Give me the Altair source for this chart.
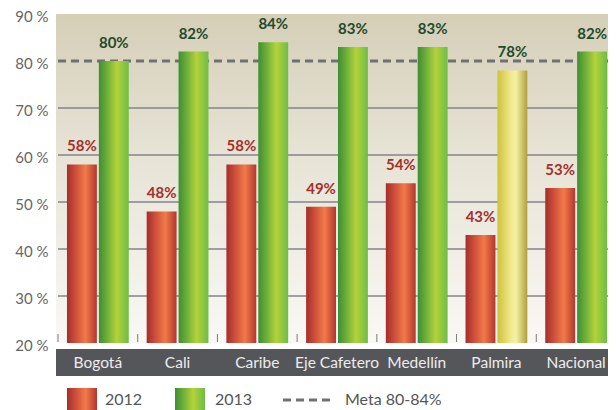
import altair as alt
import pandas as pd

regions = ["Bogotá", "Cali", "Caribe", "Eje Cafetero", "Medellín", "Palmira", "Nacional"]
v2012 = [58, 48, 58, 49, 54, 43, 53]
v2013 = [80, 82, 84, 83, 83, 78, 82]
years = ["2012", "2013"]
y_ticks = [20, 30, 40, 50, 60, 70, 80, 90]
grid_vals = [30, 40, 50, 60, 70]
meta = 80
legend_labels = ["2012", "2013", "Meta 80-84%"]

rows = []
for r, a, b in zip(regions, v2012, v2013):
    rows.append({"region": r, "year": "2012", "value": a})
    rows.append({"region": r, "year": "2013", "value": b})
df = pd.DataFrame(rows)
reg_df = pd.DataFrame({"region": regions})
one = pd.DataFrame({"k": [0]})

W, H = 558, 329      # full drawing extent of the plot (runs past the window edge)
VIEW_W = 550         # visible svg part
FONT = "Lato"


def hgrad(stops):
    return alt.Gradient(gradient="linear",
                        stops=[alt.GradientStop(color=c, offset=o) for o, c in stops],
                        x1=0, x2=1, y1=0, y2=0)


RED = hgrad([(0, "#a52d2c"), (0.3, "#cf503b"), (0.62, "#f27a48"), (1, "#b2372f")])
GREEN = hgrad([(0, "#3e8e33"), (0.3, "#72b23a"), (0.6, "#b5d23a"), (1, "#6dbd46")])
YELLOW = hgrad([(0, "#cdc23a"), (0.45, "#f1e98e"), (0.62, "#f6f0a6"), (1, "#aca13a")])
BG = alt.Gradient(gradient="linear",
                  stops=[alt.GradientStop(color="#d5cfb8", offset=0),
                         alt.GradientStop(color="#e6e2d4", offset=0.4),
                         alt.GradientStop(color="#f9f8f5", offset=1)],
                  x1=0, x2=0, y1=0, y2=1)

xscale = alt.Scale(domain=regions, range=[0, W], paddingInner=0, paddingOuter=0)
x_enc = alt.X("region:N", scale=xscale, axis=None)
xo_enc = alt.XOffset("year:N", scale=alt.Scale(domain=years, paddingInner=0.0625, paddingOuter=0.28125))
y_enc = alt.Y("value:Q", scale=alt.Scale(domain=[20, 90], nice=False, zero=False),
              axis=alt.Axis(values=y_ticks, labelExpr="datum.value + ' %'", grid=False,
                            ticks=False, domain=False, labelFontSize=15, labelColor="#666666",
                            labelPadding=10, labelFont=FONT, labelOffset=2, title=None))

background = alt.Chart(one).mark_rect(fill=BG).encode(
    x=alt.value(-2), x2=alt.value(W), y=alt.value(0), y2=alt.value(H))

grid = alt.Chart(pd.DataFrame({"value": grid_vals})).mark_rule(
    color="#858587", strokeWidth=1.5).encode(y=y_enc, x=alt.value(0), x2=alt.value(W))

base = alt.Chart(df).encode(x=x_enc, xOffset=xo_enc, y=y_enc, y2=alt.datum(20))

red_bars = base.transform_filter("datum.year == '2012'").mark_bar(fill=RED)
green_bars = base.transform_filter(f"datum.year == '2013' && datum.value >= {meta}").mark_bar(fill=GREEN)
yellow_bars = base.transform_filter(f"datum.year == '2013' && datum.value < {meta}").mark_bar(fill=YELLOW)

lab = alt.Chart(df).transform_calculate(label="datum.value + '%'").encode(
    x=x_enc, xOffset=xo_enc, y=y_enc, text="label:N")
red_lab = lab.transform_filter("datum.year == '2012'").mark_text(
    dy=-13, fontWeight="bold", fontSize=15, font=FONT, color="#a3302c", baseline="alphabetic")
green_lab = lab.transform_filter("datum.year == '2013'").mark_text(
    dy=-13, fontWeight="bold", fontSize=15, font=FONT, color="#1f4a29", baseline="alphabetic")

meta_line = alt.Chart(pd.DataFrame({"value": [meta]})).mark_rule(
    color="#707070", strokeWidth=3, strokeDash=[8, 5]).encode(y=y_enc, x=alt.value(0), x2=alt.value(W))

ticks = alt.Chart(reg_df).mark_rule(color="#7a7a7a", strokeWidth=1).encode(
    x=alt.X("region:N", scale=xscale, axis=None, bandPosition=0),
    y=alt.value(H - 9), y2=alt.value(H - 1))

band = alt.Chart(one).mark_rect(fill="#55565a").encode(
    x=alt.value(-2), x2=alt.value(W), y=alt.value(H + 6), y2=alt.value(H + 33))
band_labels = alt.Chart(reg_df).mark_text(color="#ededed", fontSize=15.5, font=FONT).encode(
    x=x_enc, y=alt.value(H + 20), text="region:N")

LY = 386
leg = [
    alt.Chart(one).mark_rect(fill=RED).encode(x=alt.value(9), x2=alt.value(39), y=alt.value(LY - 12), y2=alt.value(LY + 14)),
    alt.Chart(one).mark_text(align="left", baseline="middle", fontSize=16, font=FONT, color="#555555",
                             text=legend_labels[0]).encode(x=alt.value(47), y=alt.value(LY)),
    alt.Chart(one).mark_rect(fill=GREEN).encode(x=alt.value(117), x2=alt.value(147), y=alt.value(LY - 12), y2=alt.value(LY + 14)),
    alt.Chart(one).mark_text(align="left", baseline="middle", fontSize=16, font=FONT, color="#555555",
                             text=legend_labels[1]).encode(x=alt.value(157), y=alt.value(LY)),
    alt.Chart(one).mark_rule(color="#707070", strokeWidth=3, strokeDash=[8, 5]).encode(
        x=alt.value(225), x2=alt.value(274), y=alt.value(LY)),
    alt.Chart(one).mark_text(align="left", baseline="middle", fontSize=16, font=FONT, color="#555555",
                             text=legend_labels[2]).encode(x=alt.value(287), y=alt.value(LY)),
]

chart = alt.layer(
    background, grid, meta_line, red_bars, green_bars, yellow_bars, red_lab, green_lab,
    ticks, band, band_labels, *leg
).properties(
    width=VIEW_W, height=H, autosize="none",
    padding={"left": 50, "top": 6, "right": 0, "bottom": 67},
    background="white",
).configure_view(stroke=None)

chart.save("out.html", embed_options={"renderer": "svg", "actions": False})
